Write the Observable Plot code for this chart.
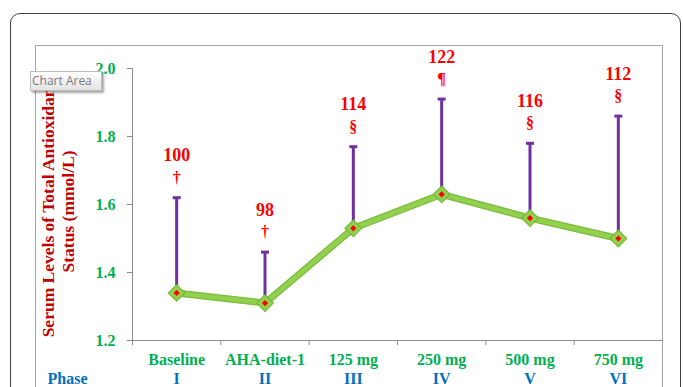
<!DOCTYPE html>
<html>
<head>
<meta charset="utf-8">
<script src="https://cdn.jsdelivr.net/npm/d3@7"></script>
<script src="https://cdn.jsdelivr.net/npm/@observablehq/plot@0.6"></script>
<style>
  html, body { margin: 0; padding: 0; background: #fff; }
  #wrap { position: relative; width: 683px; height: 387px; overflow: hidden; }
  #wrap svg { position: absolute; left: 0; top: 0; }
  .outer { position: absolute; left: 10px; top: 13px; width: 671px; height: 420px;
           border: 1.5px solid #404040; border-radius: 10px; box-sizing: border-box; }
  .inner { position: absolute; left: 35px; top: 45px; width: 628px; height: 400px;
           border: 1px solid #a6a6a6; box-sizing: border-box; }
  .tip { position: absolute; left: 30px; top: 71px; width: 72px; height: 20px;
         background: linear-gradient(#ffffff, #e4e4e4); border: 1px solid #bdbdbd;
         box-shadow: 2px 2px 2px rgba(0,0,0,0.35); font: 12px "Open Sans", sans-serif;
         color: #7a7a7a; line-height: 18px; text-align: left; padding-left: 1px; box-sizing: border-box; }
</style>
</head>
<body>
<div id="wrap">
  <div class="outer"></div>
  <div class="inner"></div>
</div>
<script>
const categories = ["Baseline", "AHA-diet-1", "125 mg", "250 mg", "500 mg", "750 mg"];
const phases = ["I", "II", "III", "IV", "V", "VI"];
const means = [1.34, 1.31, 1.53, 1.63, 1.56, 1.50];
const upper = [1.62, 1.46, 1.77, 1.91, 1.78, 1.86];
const percents = ["100", "98", "114", "122", "116", "112"];
const symbols = ["\u2020", "\u2020", "\u00a7", "\u00b6", "\u00a7", "\u00a7"];
const yTicks = [1.2, 1.4, 1.6, 1.8, 2.0];
const titleLines = ["Serum Levels of Total Antioxidant", "Status (mmol/L)"];

const data = categories.map((c, i) => ({
  cat: c, pos: i + 0.5, phase: phases[i], mean: means[i], top: upper[i],
  pct: percents[i], sym: symbols[i]
}));
const boundaries = d3.range(categories.length + 1);

const serif = "'Liberation Serif', 'Times New Roman', serif";
const capSymbol = { draw(ctx) { ctx.rect(-4, -1.5, 8, 3); } };

const chart = Plot.plot({
  width: 683,
  height: 387,
  marginLeft: 132,
  marginRight: 21,
  marginTop: 68,
  marginBottom: 47,
  style: { fontFamily: serif, background: "transparent", overflow: "visible" },
  x: { type: "linear", domain: [0, categories.length], axis: null, label: null },
  y: { domain: [1.2, 2.0], axis: null, label: null },
  marks: [
    Plot.frame({ anchor: "left", stroke: "#8c8c8c" }),
    Plot.frame({ anchor: "bottom", stroke: "#8c8c8c" }),
    Plot.axisY({ ticks: yTicks, tickSize: 5, tickPadding: 12, stroke: "#8c8c8c", label: null,
      tickFormat: d3.format(".1f"), fill: "#00b050", fontSize: 16, fontWeight: "bold" }),
    Plot.axisX({ ticks: boundaries, tickSize: 5, tickFormat: () => "", stroke: "#8c8c8c", label: null }),
    Plot.text(data, { x: "pos", frameAnchor: "bottom", dy: 19, text: "cat",
      fill: "#00b050", fontSize: 16, fontWeight: "bold", lineAnchor: "middle" }),
    Plot.text(data, { x: "pos", frameAnchor: "bottom", dy: 38, text: "phase",
      fill: "#0070c0", fontSize: 16, fontWeight: "bold", lineAnchor: "middle" }),
    Plot.text(["Phase"], { frameAnchor: "bottom-left", dx: -85, dy: 38, textAnchor: "start",
      fill: "#0070c0", fontSize: 16, fontWeight: "bold", lineAnchor: "middle" }),
    Plot.text([titleLines[0]], { frameAnchor: "left", dx: -84, dy: 5, textAnchor: "middle",
      rotate: -90, fill: "#c00000", fontSize: 17.5, fontWeight: "bold", lineAnchor: "middle" }),
    Plot.text([titleLines[1]], { frameAnchor: "left", dx: -64, dy: 7, textAnchor: "middle",
      rotate: -90, fill: "#c00000", fontSize: 17.5, fontWeight: "bold", lineAnchor: "middle" }),
    Plot.ruleX(data, { x: "pos", y1: "mean", y2: "top", stroke: "#7030a0", strokeWidth: 3 }),
    Plot.dot(data, { x: "pos", y: "top", symbol: capSymbol, fill: "#7030a0", stroke: "none" }),
    Plot.line(data, { x: "pos", y: "mean", stroke: "#7cbb3c", strokeWidth: 7 }),
    Plot.line(data, { x: "pos", y: "mean", stroke: "#92d050", strokeWidth: 4.5 }),
    Plot.dot(data, { x: "pos", y: "mean", symbol: "diamond2", r: 7.5, fill: "#92d050", stroke: "#78b83a", strokeWidth: 1.2 }),
    Plot.dot(data, { x: "pos", y: "mean", symbol: "diamond2", r: 2.8, fill: "#ff0000", stroke: "none" }),
    Plot.text(data, { x: "pos", y: "top", text: "pct", dy: -42, fill: "#ff0000",
      fontSize: 18, fontWeight: "bold", lineAnchor: "middle" }),
    Plot.text(data, { x: "pos", y: "top", text: "sym", dy: -20, fill: "#ff0000",
      fontSize: 16, fontWeight: "bold", lineAnchor: "middle" })
  ]
});

const wrap = document.getElementById("wrap");
wrap.insertBefore(chart, wrap.firstChild);
const tip = document.createElement("div");
tip.className = "tip";
tip.textContent = "Chart Area";
wrap.appendChild(tip);
</script>
</body>
</html>
